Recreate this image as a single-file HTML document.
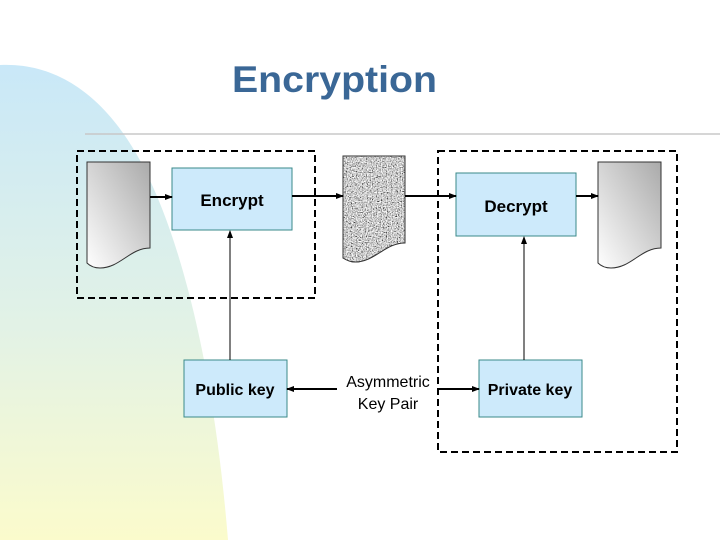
<!DOCTYPE html>
<html><head><style>html,body{margin:0;padding:0;background:#fff}svg{display:block}</style></head>
<body>
<svg width="720" height="540" viewBox="0 0 720 540" xmlns="http://www.w3.org/2000/svg" font-family="Liberation Sans, Arial, sans-serif">
<defs>
<linearGradient id="bg" x1="0" y1="0" x2="0" y2="1">
<stop offset="0" stop-color="#c9e8f8"/><stop offset="0.55" stop-color="#e2f2e6"/><stop offset="1" stop-color="#fbfbcc"/>
</linearGradient>
<linearGradient id="doc" x1="1" y1="0" x2="0" y2="1">
<stop offset="0" stop-color="#aaaaaa"/><stop offset="1" stop-color="#ffffff"/>
</linearGradient>
<filter id="noise"><feTurbulence type="fractalNoise" baseFrequency="0.8" numOctaves="2" seed="3"/><feColorMatrix type="matrix" values="1.2 1.2 1.2 0 -1.2 1.2 1.2 1.2 0 -1.2 1.2 1.2 1.2 0 -1.2 0 0 0 0 1"/></filter>
<clipPath id="nc"><path d="M343,156 H405 V243 C385,243 375,262 355,262 C350,262 346,260 343,258 Z"/></clipPath>
<marker id="ah" markerWidth="8" markerHeight="8" refX="7" refY="4" orient="auto" markerUnits="userSpaceOnUse"><path d="M0,1 L8,4 L0,7 Z" fill="#000"/></marker>
</defs>
<path d="M0,65 C60,62 110,100 145,170 C185,250 215,380 228,540 L0,540 Z" fill="url(#bg)"/>
<text x="232" y="92" font-size="37" font-weight="bold" fill="#3a6796" textLength="205" lengthAdjust="spacingAndGlyphs">Encryption</text>
<line x1="85" y1="134" x2="720" y2="134" stroke="#c8c8c8" stroke-width="1.5"/>
<rect x="77" y="151" width="238" height="147" fill="none" stroke="#000" stroke-width="2" stroke-dasharray="7,4"/>
<rect x="438" y="151" width="239" height="301" fill="none" stroke="#000" stroke-width="2" stroke-dasharray="7,4"/>
<path d="M87,162 H150 V248 C130,248 120,268 100,268 C95,268 90,266 87,263 Z" fill="url(#doc)" stroke="#333" stroke-width="1"/>
<path d="M598,162 H661 V248 C641,248 631,268 611,268 C606,268 601,266 598,263 Z" fill="url(#doc)" stroke="#333" stroke-width="1"/>
<rect x="343" y="156" width="62" height="106" fill="#999"/>
<rect x="343" y="156" width="62" height="106" filter="url(#noise)" clip-path="url(#nc)"/>
<path d="M343,156 H405 V243 C385,243 375,262 355,262 C350,262 346,260 343,258 Z" fill="none" stroke="#333" stroke-width="1"/>
<path d="M343,258 C346,260 350,262 355,262 C375,262 385,243 405,243 V262 H343 Z" fill="#fff"/>
<path d="M343,156 H405 V243 C385,243 375,262 355,262 C350,262 346,260 343,258 Z" fill="none" stroke="#333" stroke-width="1"/>
<rect x="172" y="168" width="120" height="62" fill="#cdeafb" stroke="#3a8a8a"/>
<rect x="456" y="173" width="120" height="63" fill="#cdeafb" stroke="#3a8a8a"/>
<rect x="184" y="360" width="103" height="57" fill="#cdeafb" stroke="#3a8a8a"/>
<rect x="479" y="360" width="103" height="57" fill="#cdeafb" stroke="#3a8a8a"/>
<text x="232" y="206" font-size="17" font-weight="bold" text-anchor="middle">Encrypt</text>
<text x="516" y="212" font-size="17" font-weight="bold" text-anchor="middle">Decrypt</text>
<text x="235" y="395" font-size="16" font-weight="bold" text-anchor="middle">Public key</text>
<text x="530" y="395" font-size="16" font-weight="bold" text-anchor="middle">Private key</text>
<text x="388" y="387" font-size="16" text-anchor="middle">Asymmetric</text>
<text x="388" y="409" font-size="16" text-anchor="middle">Key Pair</text>
<g stroke="#000" stroke-width="2" fill="none">
<line x1="150" y1="197" x2="172" y2="197" marker-end="url(#ah)"/>
<line x1="292" y1="196" x2="343" y2="196" marker-end="url(#ah)"/>
<line x1="405" y1="196" x2="456" y2="196" marker-end="url(#ah)"/>
<line x1="576" y1="196" x2="598" y2="196" marker-end="url(#ah)"/>
<line x1="337" y1="389" x2="287" y2="389" marker-end="url(#ah)"/>
<line x1="438" y1="389" x2="479" y2="389" marker-end="url(#ah)"/>
</g>
<g stroke="#000" stroke-width="1" fill="none">
<line x1="230" y1="360" x2="230" y2="231" marker-end="url(#ah)"/>
<line x1="524" y1="360" x2="524" y2="237" marker-end="url(#ah)"/>
</g>
</svg>
</body></html>
